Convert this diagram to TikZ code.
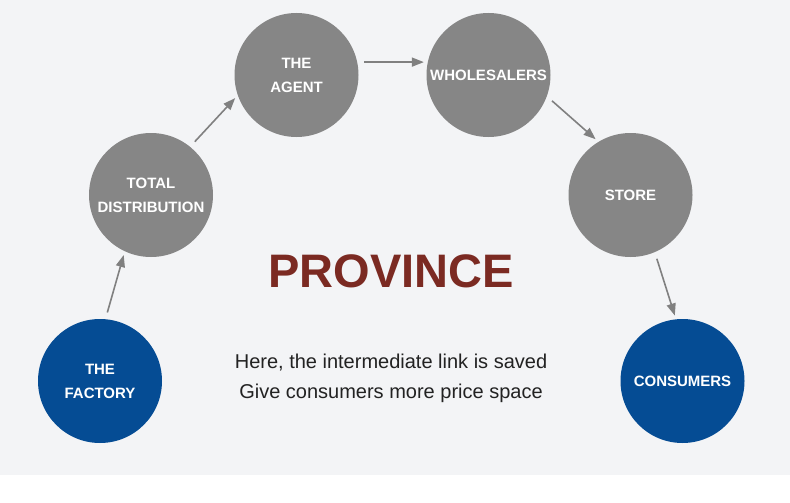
\documentclass[tikz,border=0pt]{standalone}
\usepackage{fontspec}
\setmainfont{Liberation Sans}
\usetikzlibrary{arrows.meta}
\definecolor{bgc}{HTML}{F3F4F6}
\definecolor{cgray}{HTML}{868686}
\definecolor{cblue}{HTML}{054C94}
\definecolor{arrc}{HTML}{808080}
\definecolor{provc}{HTML}{7B2A22}
\definecolor{txtc}{HTML}{222222}
\tikzset{
  circ/.style={circle, minimum size=124pt, inner sep=0pt, outer sep=0pt, text=white, align=center,
    font=\fontsize{15}{24}\selectfont\bfseries},
  graycirc/.style={circ, fill=cgray},
  bluecirc/.style={circ, fill=cblue},
  arr/.style={draw=arrc, line width=1.6pt, -{Triangle[length=12pt,width=9pt]}, shorten <=7pt, shorten >=4pt},
}
\newcommand{\lbl}[1]{\raisebox{-2pt}{\begin{tabular}{@{}c@{}}#1\end{tabular}}}
\begin{document}
\begin{tikzpicture}[x=1pt,y=-1pt]
\useasboundingbox (0,0) rectangle (790,503);
\fill[white] (0,0) rectangle (790,503);
\fill[bgc] (0,0) rectangle (790,475);
\node[bluecirc] (fac) at (100,381) {THE\\FACTORY};
\node[graycirc] (tot) at (151,195) {TOTAL\\DISTRIBUTION};
\node[graycirc] (age) at (296.5,75) {THE\\AGENT};
\node[graycirc] (who) at (488.5,75) {WHOLESALERS};
\node[graycirc] (sto) at (630.5,195) {STORE};
\node[bluecirc] (con) at (682.5,381) {CONSUMERS};
\draw[arr] (fac.85) -- (tot.245);
\draw[arr] (tot.51) -- (age.199);
\draw[arr] (age.12) -- (who.168);
\draw[arr] (who.-20) -- (sto.121);
\draw[arr] (sto.-67) -- (con.96);
\node[text=provc, font=\fontsize{47}{50}\selectfont\bfseries] (prov) at (391,271) {PROVINCE};
\node[text=txtc, align=center, font=\fontsize{20}{30}\selectfont] (body) at (391,378) {Here, the intermediate link is saved\\Give consumers more price space};
\end{tikzpicture}
\end{document}
